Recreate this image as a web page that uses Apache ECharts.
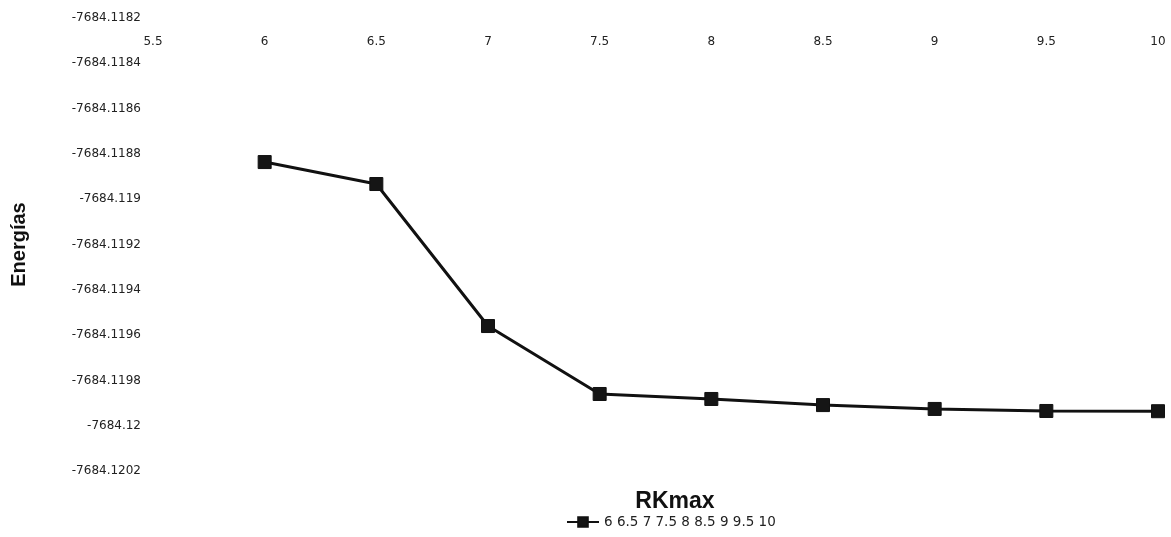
<!DOCTYPE html>
<html><head><meta charset="utf-8">
<script src="https://cdn.jsdelivr.net/npm/echarts@6/dist/echarts.min.js"></script>
<style>html,body{margin:0;padding:0;background:#fff}#c{width:1171px;height:537px}</style>
</head><body><div id="c"></div>
<script>
const rkmax = [6, 6.5, 7, 7.5, 8, 8.5, 9, 9.5, 10];
const energias = [-7684.118836, -7684.118933, -7684.11956, -7684.11986, -7684.119882, -7684.119909, -7684.119926, -7684.119935, -7684.119936];
const seriesName = '6 6.5 7 7.5 8 8.5 9 9.5 10';
const chart = echarts.init(document.getElementById('c'));
const fmt = v => String(parseFloat(v.toFixed(4)));
const labFont = 'DejaVu Sans, sans-serif';
chart.setOption({
  animation: false,
  backgroundColor: '#fff',
  textStyle: { fontFamily: 'Liberation Sans, Arial, sans-serif' },
  grid: { left: 153, right: 13, top: 18, bottom: 66, containLabel: false, outerBoundsMode: 'none' },
  title: {
    text: 'RKmax', left: 670, top: 485, textAlign: 'center',
    textStyle: { fontSize: 23, fontWeight: 'bold', color: '#111', fontFamily: 'Liberation Sans, Arial, sans-serif' }
  },
  legend: {
    bottom: 3, left: 561, itemWidth: 32, itemHeight: 12, itemGap: 4,
    textStyle: { fontSize: 13.5, color: '#222', fontFamily: labFont },
    data: [{ name: seriesName }]
  },
  xAxis: {
    type: 'value', position: 'top', min: 5.5, max: 10, interval: 0.5,
    axisLine: { show: false }, axisTick: { show: false }, splitLine: { show: false },
    axisLabel: { inside: true, margin: 18, fontSize: 12, color: '#222', fontFamily: labFont, formatter: v => String(v) }
  },
  yAxis: {
    type: 'value', min: -7684.1202, max: -7684.1182, interval: 0.0002,
    axisLine: { show: false }, axisTick: { show: false }, splitLine: { show: false },
    axisLabel: { fontSize: 12, color: '#222', margin: 12, fontFamily: labFont, formatter: fmt },
    name: 'Energías', nameLocation: 'middle', nameGap: 124, nameRotate: 90,
    nameTextStyle: { fontSize: 20, fontWeight: 'bold', color: '#111' }
  },
  series: [{
    name: seriesName, type: 'line',
    data: rkmax.map((x, i) => [x, energias[i]]),
    symbol: 'rect', symbolSize: 13,
    lineStyle: { color: '#111', width: 3 },
    itemStyle: { color: '#151515', borderColor: '#111', borderWidth: 1 }
  }]
});
</script></body></html>
